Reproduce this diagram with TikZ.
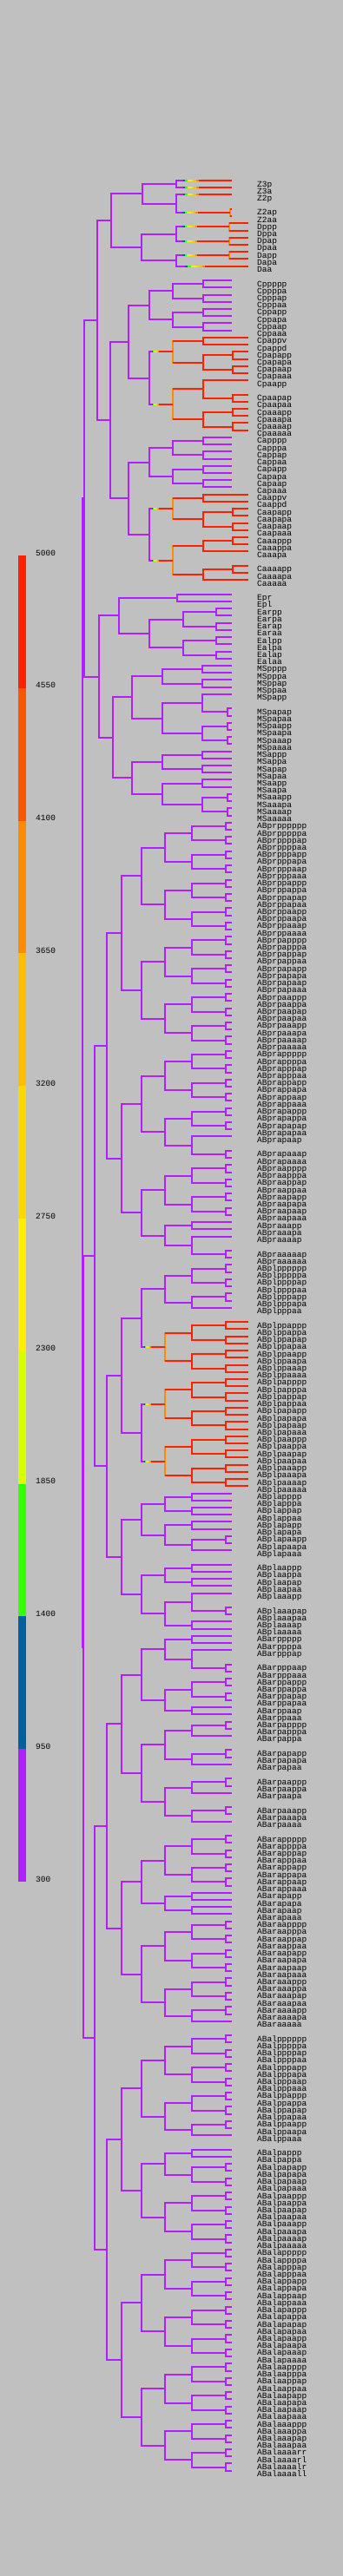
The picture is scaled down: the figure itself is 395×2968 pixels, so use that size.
\documentclass[tikz,border=0pt]{standalone}
\usepackage{fontspec}
\setmonofont{Liberation Mono}

\definecolor{bgray}{HTML}{C0C0C0}
\definecolor{cred}{HTML}{FF2000}
\definecolor{corr}{HTML}{FF5500}
\definecolor{cora}{HTML}{FF8C00}
\definecolor{cgol}{HTML}{FFBE00}
\definecolor{cgld}{HTML}{FFD700}
\definecolor{cyel}{HTML}{FFEE00}
\definecolor{cygr}{HTML}{D8FF00}
\definecolor{cgrn}{HTML}{38FF00}
\definecolor{cblu}{HTML}{0060A0}
\definecolor{cpur}{HTML}{B020FF}
\colorlet{purp}{cpur}
\colorlet{redd}{cred}
\colorlet{redz}{cred}

% leaf end per colour class
\expandafter\def\csname end@purp\endcsname{267}
\expandafter\def\csname end@redd\endcsname{286}
\expandafter\def\csname end@redz\endcsname{267}

% mark every prefix of a cell name as present
\def\markpre#1{\def\acc{}\markstep#1\relax}
\def\markstep#1{\ifx\relax#1\else\edef\acc{\acc#1}%
  \expandafter\gdef\csname ex@\acc\endcsname{}\expandafter\markstep\fi}

\foreach \n in {Z3p, Z3a, Z2p, Z2ap, Z2aa,
  Dppp, Dppa, Dpap, Dpaa, Dapp, Dapa, Daa,
  Cppppp, Cppppa, Cpppap, Cpppaa, Cppapp, Cppapa, Cppaap, Cppaaa,
  Cpappv, Cpappd, Cpapapp, Cpapapa, Cpapaap, Cpapaaa,
  Cpaapp, Cpaapap, Cpaapaa, Cpaaapp, Cpaaapa, Cpaaaap, Cpaaaaa,
  Capppp, Capppa, Cappap, Cappaa, Capapp, Capapa, Capaap, Capaaa,
  Caappv, Caappd, Caapapp, Caapapa, Caapaap, Caapaaa,
  Caaappp, Caaappa, Caaapa, Caaaapp, Caaaapa, Caaaaa,
  Epr, Epl, Earpp, Earpa, Earap, Earaa, Ealpp, Ealpa, Ealap, Ealaa,
  MSpppp, MSpppa, MSppap, MSppaa, MSpapp, MSpapap, MSpapaa,
  MSpaapp, MSpaapa, MSpaaap, MSpaaaa, MSappp, MSappa, MSapap, MSapaa,
  MSaapp, MSaapa, MSaaapp, MSaaapa, MSaaaap, MSaaaaa,
  ABprpppppp, ABprpppppa, ABprppppap, ABprppppaa, ABprpppapp, ABprpppapa,
  ABprpppaap, ABprpppaaa, ABprppappp, ABprppappa, ABprppapap, ABprppapaa,
  ABprppaapp, ABprppaapa, ABprppaaap, ABprppaaaa,
  ABprpapppp, ABprpapppa, ABprpappap, ABprpappaa, ABprpapapp, ABprpapapa,
  ABprpapaap, ABprpapaaa, ABprpaappp, ABprpaappa, ABprpaapap, ABprpaapaa,
  ABprpaaapp, ABprpaaapa, ABprpaaaap, ABprpaaaaa,
  ABprappppp, ABprappppa, ABprapppap, ABprapppaa, ABprappapp, ABprappapa,
  ABprappaap, ABprappaaa, ABprapappp, ABprapappa, ABprapapap, ABprapapaa,
  ABprapaap, ABprapaaap, ABprapaaaa,
  ABpraapppp, ABpraapppa, ABpraappap, ABpraappaa, ABpraapapp, ABpraapapa,
  ABpraapaap, ABpraapaaa, ABpraaapp, ABpraaapa, ABpraaaap, ABpraaaaap, ABpraaaaaa,
  ABplpppppp, ABplpppppa, ABplppppap, ABplppppaa, ABplpppapp, ABplpppapa, ABplpppaa,
  ABplppappp, ABplppappa, ABplppapap, ABplppapaa, ABplppaapp, ABplppaapa,
  ABplppaaap, ABplppaaaa,
  ABplpapppp, ABplpapppa, ABplpappap, ABplpappaa, ABplpapapp, ABplpapapa,
  ABplpapaap, ABplpapaaa, ABplpaappp, ABplpaappa, ABplpaapap, ABplpaapaa,
  ABplpaaapp, ABplpaaapa, ABplpaaaap, ABplpaaaaa,
  ABplapppp, ABplapppa, ABplappap, ABplappaa, ABplapapp, ABplapapa,
  ABplapaapp, ABplapaapa, ABplapaaa, ABplaappp, ABplaappa, ABplaapap, ABplaapaa,
  ABplaaapp, ABplaaapap, ABplaaapaa, ABplaaaap, ABplaaaaa,
  ABarppppp, ABarppppa, ABarpppap, ABarpppaap, ABarpppaaa, ABarppappp,
  ABarppappa, ABarppapap, ABarppapaa, ABarppaap, ABarppaaa,
  ABarpapppp, ABarpapppa, ABarpappa, ABarpapapp, ABarpapapa, ABarpapaa,
  ABarpaappp, ABarpaappa, ABarpaapa, ABarpaaapp, ABarpaaapa, ABarpaaaa,
  ABarappppp, ABarappppa, ABarapppap, ABarapppaa, ABarappapp, ABarappapa,
  ABarappaap, ABarappaaa, ABarapapp, ABarapapa, ABarapaap, ABarapaaa,
  ABaraapppp, ABaraapppa, ABaraappap, ABaraappaa, ABaraapapp, ABaraapapa,
  ABaraapaap, ABaraapaaa, ABaraaappp, ABaraaappa, ABaraaapap, ABaraaapaa,
  ABaraaaapp, ABaraaaapa, ABaraaaaa,
  ABalpppppp, ABalpppppa, ABalppppap, ABalppppaa, ABalpppapp, ABalpppapa,
  ABalpppaap, ABalpppaaa, ABalppappp, ABalppappa, ABalppapap, ABalppapaa,
  ABalppaapp, ABalppaapa, ABalppaaa,
  ABalpappp, ABalpappa, ABalpapapp, ABalpapapa, ABalpapaap, ABalpapaaa,
  ABalpaappp, ABalpaappa, ABalpaapap, ABalpaapaa, ABalpaaapp, ABalpaaapa,
  ABalpaaaap, ABalpaaaaa,
  ABalappppp, ABalappppa, ABalapppap, ABalapppaa, ABalappapp, ABalappapa,
  ABalappaap, ABalappaaa, ABalapappp, ABalapappa, ABalapapap, ABalapapaa,
  ABalapaapp, ABalapaapa, ABalapaaap, ABalapaaaa,
  ABalaapppp, ABalaapppa, ABalaappap, ABalaappaa, ABalaapapp, ABalaapapa,
  ABalaapaap, ABalaapaaa, ABalaaappp, ABalaaappa, ABalaaapap, ABalaaapaa,
  ABalaaaarr, ABalaaaarl, ABalaaaalr, ABalaaaall}
  {\expandafter\markpre\expandafter{\n}\expandafter\gdef\csname lf@\n\endcsname{}}

% empty rows before these cells
\foreach \n in {Z2ap, Cppppp, Cpaapap, Caaaapp, Epr, MSpapap,
  ABprapaaap, ABpraaaaap, ABplppappp, ABplaappp, ABplaaapap,
  ABarpppaap, ABarpapapp, ABarpaappp, ABarpaaapp, ABarappppp,
  ABalpppppp, ABalpappp}
  {\expandafter\gdef\csname gp@\n\endcsname{}}

% sub-lineages that turn red
\foreach \n/\cls in {Z3p/redz, Z3a/redz, Z2p/redz, Z2a/redz,
  Dpp/redd, Dpa/redd, Dap/redd, Daa/redd,
  Cpap/redd, Cpaa/redd, Caap/redd, Caaa/redd,
  ABplppa/redd, ABplpap/redd, ABplpaa/redd}
  {\expandafter\xdef\csname cl@\n\endcsname{\cls}}

% founders, division times, P lineage
\foreach \n/\lin in {P0/p, AB/ab, C/c, D/d, E/e, MS/ms, P4/z}
  {\expandafter\xdef\csname tg@\n\endcsname{\lin}}
\foreach \lin/\gen/\val in {ab/1/96, ab/2/109, ab/3/123, ab/4/140, ab/5/163,
  ab/6/190, ab/7/221, ab/8/260, c/3/127, c/4/148, c/5/172, c/6/199, c/7/234,
  c/8/268, d/4/163, d/5/203, d/6/264, e/3/137, e/4/172, e/5/211, e/6/249,
  ms/3/130, ms/4/152, ms/5/187, ms/6/233, ms/7/262, z/4/164, z/5/203, z/6/265}
  {\expandafter\xdef\csname xt@\lin @\gen\endcsname{\val}}
\foreach \n/\val in {P0/95, P1/97, P2/112, EMS/114, P3/128, P4/164, Ep/204}
  {\expandafter\xdef\csname xo@\n\endcsname{\val}}
\foreach \n/\one/\two in {P0/P1/AB, P1/P2/EMS, P2/P3/C, P3/P4/D, P4/Z3/Z2, EMS/E/MS}
  {\expandafter\xdef\csname ka@\n\endcsname{\one}\expandafter\xdef\csname kb@\n\endcsname{\two}}

\expandafter\def\csname k@ROOT\endcsname{purp}
\expandafter\def\csname t@ROOT\endcsname{p}
\expandafter\def\csname g@ROOT\endcsname{-1}

\newcount\rowno

\def\clade#1#2{%
  \ifcsname cl@#1\endcsname
    \expandafter\xdef\csname k@#1\endcsname{\csname cl@#1\endcsname}%
  \else
    \expandafter\xdef\csname k@#1\endcsname{\csname k@#2\endcsname}%
  \fi
  \ifcsname tg@#1\endcsname
    \expandafter\xdef\csname t@#1\endcsname{\csname tg@#1\endcsname}%
  \else
    \expandafter\xdef\csname t@#1\endcsname{\csname t@#2\endcsname}%
  \fi
  \expandafter\xdef\csname g@#1\endcsname{\the\numexpr\csname g@#2\endcsname+1\relax}%
  \ifcsname lf@#1\endcsname\leaf{#1}\else\inner{#1}\fi
  \ifcsname fk@#2\endcsname\else\expandafter\xdef\csname fk@#2\endcsname{#1}\fi
  \expandafter\xdef\csname lk@#2\endcsname{#1}%
}

\def\leaf#1{%
  \ifcsname gp@#1\endcsname\global\advance\rowno by 1 \fi
  \pgfmathsetmacro\yy{208+8.22*\the\rowno}%
  \global\advance\rowno by 1 %
  \expandafter\xdef\csname y@#1\endcsname{\yy}%
  \edef\kc{\csname k@#1\endcsname}%
  \expandafter\xdef\csname x@#1\endcsname{\csname end@\kc\endcsname}%
  \edef\next{\noexpand\coordinate (#1) at (\csname x@#1\endcsname,\yy);
    \noexpand\node[cell] (n#1) at (296,\yy) {#1};}\next
}

\def\inner#1{%
  \ifcsname xo@#1\endcsname
    \expandafter\xdef\csname x@#1\endcsname{\csname xo@#1\endcsname}%
  \else
    \expandafter\xdef\csname x@#1\endcsname{\csname xt@\csname t@#1\endcsname @\csname g@#1\endcsname\endcsname}%
  \fi
  \ifcsname ka@#1\endcsname
    \edef\next{\noexpand\clade{\csname ka@#1\endcsname}{#1}}\next
    \edef\next{\noexpand\clade{\csname kb@#1\endcsname}{#1}}\next
  \else
    \ifcsname ex@#1p\endcsname\clade{#1p}{#1}\fi
    \ifcsname ex@#1a\endcsname\clade{#1a}{#1}\fi
    \ifcsname ex@#1r\endcsname\clade{#1r}{#1}\fi
    \ifcsname ex@#1l\endcsname\clade{#1l}{#1}\fi
    \ifcsname ex@#1v\endcsname\clade{#1v}{#1}\fi
    \ifcsname ex@#1d\endcsname\clade{#1d}{#1}\fi
  \fi
  \edef\fst{\csname fk@#1\endcsname}\edef\lst{\csname lk@#1\endcsname}%
  \pgfmathsetmacro\yy{(\csname y@\fst\endcsname+\csname y@\lst\endcsname)/2}%
  \expandafter\xdef\csname y@#1\endcsname{\yy}%
  \ifcsname cl@#1\endcsname\def\bc{cora}\else\edef\bc{\csname k@#1\endcsname}\fi
  \edef\next{\noexpand\coordinate (#1) at (\csname x@#1\endcsname,\yy);
    \noexpand\draw[bar,draw=\bc] (#1 |- \fst) -- (#1 |- \lst);}\next
  \branch{#1}{\fst}\branch{#1}{\lst}%
}

\def\branch#1#2{%
  \edef\pc{\csname k@#1\endcsname}\edef\kc{\csname k@#2\endcsname}%
  \ifx\pc\kc
    \edef\next{\noexpand\draw[br,draw=\kc] (#1 |- #2) -- (#2);}\next
  \else
    \hot{#1}{#2}%
  \fi}

\def\hot#1#2{%
  \edef\xa{\csname x@#1\endcsname}\edef\xb{\csname x@#2\endcsname}%
  \edef\ya{\csname y@#2\endcsname}%
  \pgfmathsetmacro\ta{\xa+0.12*(\xb-\xa)}%
  \pgfmathsetmacro\tw{0.04*(\xb-\xa)}%
  \pgfmathsetmacro\tb{\ta+7*\tw}%
  \edef\next{\noexpand\draw[br,draw=\pc] (#1 |- #2) -- (\ta,\ya);
    \noexpand\draw[br,draw=\kc] (\tb,\ya) -- (#2);}\next
  \foreach \tc [count=\ti from 0] in {cblu,cgrn,cygr,cyel,cgld,cgol,cora}
    {\draw[br,draw=\tc] ({\ta+\ti*\tw},\ya) -- ({\ta+(\ti+1)*\tw},\ya);}%
}

\begin{document}
\begin{tikzpicture}[x=1pt, y=-1pt,
    br/.style={line width=2pt},
    bar/.style={line width=2pt, line cap=rect},
    cell/.style={anchor=base west, inner sep=0pt, yshift=-7pt,
      font=\ttfamily\fontsize{9.5}{9.5}\selectfont},
    keylbl/.style={anchor=base west, inner sep=0pt,
      font=\ttfamily\fontsize{9.5}{9.5}\selectfont}]
  \fill[bgray] (0,0) rectangle (395,2968);
  \useasboundingbox (0,0) rectangle (395,2968);

  % colour key
  \foreach \bc [count=\bi from 0] in {cred,corr,cora,cgol,cgld,cyel,cygr,cgrn,cblu,cpur}
    \fill[\bc] (21,{640+152.8*\bi}) rectangle (30,{640+152.8*(\bi+1)});
  \foreach \kv [count=\ki from 0] in {5000,4550,4100,3650,3200,2750,2300,1850,1400,950,300}
    \node[keylbl] (k\kv) at (41,{640+152.8*\ki}) {\kv};

  % lineage
  \global\rowno=0
  \clade{P0}{ROOT}
\end{tikzpicture}
\end{document}
